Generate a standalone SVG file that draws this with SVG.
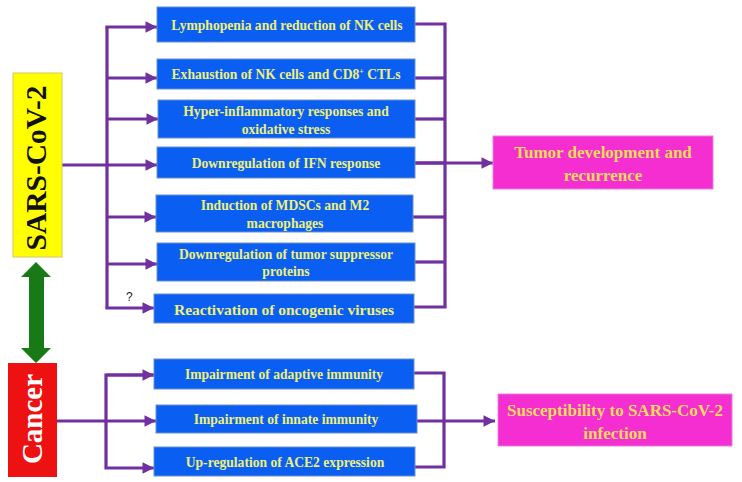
<svg xmlns="http://www.w3.org/2000/svg" width="742" height="482" viewBox="0 0 742 482">
<defs>
<style>
.box{fill:#0a5ff2;stroke:#6a8fc8;stroke-width:1}
.bt{font-family:"Liberation Serif",serif;font-weight:bold;font-size:13.6px;fill:#eef07a;text-anchor:middle}
.big{font-size:15.5px}
.pk{fill:#f52ed2;stroke:#e080e0;stroke-width:1}
.pt{font-family:"Liberation Serif",serif;font-weight:bold;font-size:17px;fill:#f4dc5a;text-anchor:middle}
.ln{fill:none;stroke:#7030a0;stroke-width:3.2}
</style>
<marker id="ah" viewBox="0 0 10 10" refX="10" refY="5" markerWidth="3.6" markerHeight="4" markerUnits="strokeWidth" orient="auto">
<path d="M0,0 L10,5 L0,10 z" fill="#7030a0"/>
</marker>
</defs>
<rect width="742" height="482" fill="#ffffff"/>
<g id="connectors">
<line class="ln" x1="62" y1="165" x2="107" y2="165"/>
<line class="ln" x1="107" y1="27" x2="107" y2="308"/>
<line class="ln" x1="105.4" y1="27" x2="157" y2="27" marker-end="url(#ah)"/>
<line class="ln" x1="107" y1="78" x2="157" y2="78" marker-end="url(#ah)"/>
<line class="ln" x1="107" y1="119" x2="158" y2="119" marker-end="url(#ah)"/>
<line class="ln" x1="107" y1="165" x2="157" y2="165" marker-end="url(#ah)"/>
<line class="ln" x1="107" y1="217" x2="156" y2="217" marker-end="url(#ah)"/>
<line class="ln" x1="107" y1="264" x2="157" y2="264" marker-end="url(#ah)"/>
<line class="ln" x1="105.4" y1="308" x2="154" y2="308" marker-end="url(#ah)"/>
<path class="ln" d="M415,24 H445 V307 H414"/>
<line class="ln" x1="415" y1="78" x2="445" y2="78"/>
<line class="ln" x1="415" y1="119" x2="445" y2="119"/>
<line class="ln" x1="415" y1="163" x2="445" y2="163"/>
<line class="ln" x1="413" y1="217" x2="445" y2="217"/>
<line class="ln" x1="415" y1="262" x2="445" y2="262"/>
<line class="ln" x1="415" y1="163" x2="493" y2="163" marker-end="url(#ah)"/>
<line class="ln" x1="57" y1="421" x2="156" y2="421" marker-end="url(#ah)"/>
<path class="ln" d="M154,375 H106 V468 H154" marker-end="url(#ah)"/>
<line class="ln" x1="106" y1="375" x2="154" y2="375" marker-end="url(#ah)"/>
<path class="ln" d="M414,373 H444 V467 H415"/>
<line class="ln" x1="417" y1="421" x2="495" y2="421" marker-end="url(#ah)"/>
<text x="126" y="301" font-family="Liberation Sans,sans-serif" font-size="12" fill="#222">?</text>
<path d="M36,262 L51,277 L44,277 L44,348 L51,348 L36,363 L21,348 L29,348 L29,277 L21,277 z" fill="#177a17"/>
</g>
<g id="sars">
<rect x="13" y="73" width="49" height="184" fill="#ffff00" stroke="#d8c860" stroke-width="1"/>
<text transform="translate(46,168) rotate(-90)" font-family="Liberation Serif,serif" font-weight="bold" font-size="29.5" fill="#111" text-anchor="middle">SARS-CoV-2</text>
</g>
<g id="cancer">
<rect x="8" y="363" width="49" height="114" fill="#ee1111"/>
<text transform="translate(42,419) rotate(-90)" font-family="Liberation Serif,serif" font-weight="bold" font-size="29" fill="#ffffff" text-anchor="middle">Cancer</text>
</g>
<g id="n1"><rect class="box" x="157" y="7" width="258" height="35"/><text class="bt" x="287" y="30">Lymphopenia and reduction of NK cells</text></g>
<g id="n2"><rect class="box" x="157" y="59" width="258" height="30"/><text class="bt" x="286" y="79">Exhaustion of NK cells and CD8<tspan font-size="8" dy="-5">+</tspan><tspan dy="5"> CTLs</tspan></text></g>
<g id="n3"><rect class="box" x="158" y="100" width="257" height="38"/><text class="bt" x="286" y="116">Hyper-inflammatory responses and</text><text class="bt" x="286" y="134">oxidative stress</text></g>
<g id="n4"><rect class="box" x="157" y="147" width="258" height="31"/><text class="bt" x="286" y="168">Downregulation of IFN response</text></g>
<g id="n5"><rect class="box" x="156" y="195" width="257" height="37"/><text class="bt" x="285" y="210">Induction of MDSCs and M2</text><text class="bt" x="285" y="228">macrophages</text></g>
<g id="n6"><rect class="box" x="157" y="243" width="258" height="38"/><text class="bt" x="286" y="259">Downregulation of tumor suppressor</text><text class="bt" x="286" y="276">proteins</text></g>
<g id="n7"><rect class="box" x="154" y="294" width="260" height="29"/><text class="bt big" x="284" y="315">Reactivation of oncogenic viruses</text></g>
<g id="t1"><rect class="pk" x="493" y="136" width="220" height="53"/><text class="pt" x="603" y="158">Tumor development and</text><text class="pt" x="603" y="181">recurrence</text></g>
<g id="c1"><rect class="box" x="154" y="359" width="260" height="30"/><text class="bt" x="284" y="379">Impairment of adaptive immunity</text></g>
<g id="c2"><rect class="box" x="156" y="405" width="261" height="28"/><text class="bt" x="286" y="424">Impairment of innate immunity</text></g>
<g id="c3"><rect class="box" x="154" y="447" width="261" height="29"/><text class="bt" x="285" y="467">Up-regulation of ACE2 expression</text></g>
<g id="t2"><rect class="pk" x="498" y="394" width="234" height="52"/><text class="pt" x="615" y="416">Susceptibility to SARS-CoV-2</text><text class="pt" x="615" y="439">infection</text></g>
</svg>
